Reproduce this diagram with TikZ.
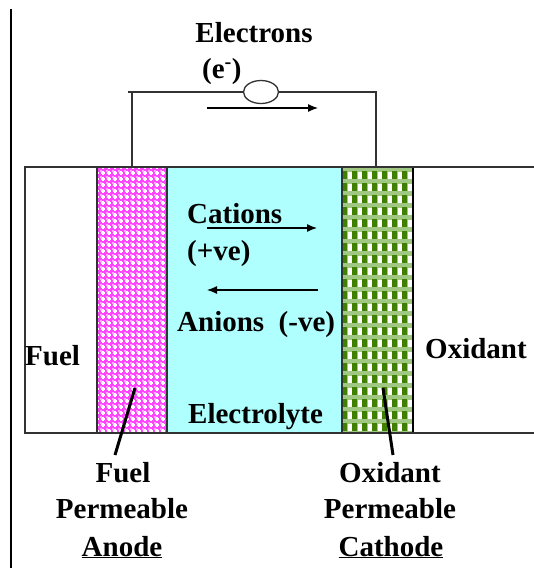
\documentclass[tikz,border=0pt]{standalone}
\usepackage{fontspec}
\setmainfont{Liberation Serif}
\usetikzlibrary{arrows.meta,shapes.geometric}
\definecolor{pinkbase}{RGB}{255,70,255}
\definecolor{pinklight}{RGB}{255,170,255}
\definecolor{cyanfill}{RGB}{176,255,255}
\definecolor{dkgreen}{RGB}{64,128,0}
\definecolor{ltgreen}{RGB}{160,200,130}
\definecolor{wire}{RGB}{50,50,50}
\tikzset{
  lbl/.style={inner sep=0pt,font=\fontsize{29}{36}\selectfont\bfseries},
  wireline/.style={draw=wire,line width=1.3pt},
  pointer/.style={draw=black,line width=3pt},
  flow/.style={draw=black,line width=1.2pt,-{Latex[length=10pt,width=8pt]}},
}
\begin{document}
\begin{tikzpicture}[x=1pt,y=-1pt]
\clip (0,0) rectangle (534,568);
\fill[white] (0,0) rectangle (534,568);
% left margin rule
\draw[black,line width=2pt] (11,9) -- (11,568);
% layers
\fill[pinkbase] (97,167) rectangle (167,433);
\begin{scope}
\clip (97,167) rectangle (167,433);
\foreach \i in {0,...,12}{
  \foreach \j in {0,...,45}{
    \fill[pinklight] ({97+6*\i+3},{167+6*\j+3}) rectangle ++(1.5,1.5);
    \fill[white] ({97+6*\i-0.6},{167+6*\j-1.8}) rectangle ++(1.2,3.6);
    \fill[white] ({97+6*\i-1.8},{167+6*\j-0.6}) rectangle ++(3.6,1.2);
  }
}
\end{scope}
\fill[cyanfill] (167,167) rectangle (342,433);
\begin{scope}
\clip (342,167) rectangle (413,433);
\fill[ltgreen] (342,167) rectangle (413,433);
\foreach \i in {0,...,7}{
  \foreach \j in {0,...,22}{
    \fill[dkgreen] ({342+10*\i},{167+12*\j+4}) rectangle ++(5,8);
    \fill[white] ({342+10*\i+5.5},{167+12*\j+4.5}) rectangle ++(4,7);
  }
}
\end{scope}
\draw[wire,line width=1.5pt] (97,167) -- (97,433);
\draw[wire,line width=1.5pt] (167,167) -- (167,433);
\draw[wire,line width=1.5pt] (342,167) -- (342,433);
\draw[black,line width=2pt] (413,167) -- (413,433);
\draw[wire,line width=1.5pt] (25,167) rectangle (545,433);
% external circuit
\node[draw=wire,line width=1.3pt,ellipse,minimum width=35pt,minimum height=23pt,inner sep=0pt] (load) at (261,92) {};
\coordinate (wl) at (128,92);
\coordinate (anodetop) at (132,167);
\coordinate (cornerR) at (376,92);
\coordinate (cathodetop) at (376,167);
\draw[wireline] (wl) -- (load.west);
\draw[wireline] (132,92) -- (anodetop);
\draw[wireline] (load.east) -- (cornerR) -- (cathodetop);
\coordinate (ea) at (207,108);
\coordinate (eb) at (318,108);
\draw[flow] (ea) -- (eb);
% ion arrows
\coordinate (ca) at (207,228);
\coordinate (cb) at (317,228);
\draw[flow] (ca) -- (cb);
\coordinate (aa) at (318,290);
\coordinate (ab) at (207,290);
\draw[flow] (aa) -- (ab);
% labels
\node[lbl,anchor=base] (electrons) at (254,42) {Electrons};
\node[lbl,anchor=base west] (eminus) at (202,78) {(e\textsuperscript{-})};
\node[lbl,anchor=base west] (cations) at (187,223) {Cations};
\node[lbl,anchor=base west] (pve) at (187,260) {(+ve)};
\node[lbl,anchor=base west] (anions) at (177,331) {Anions\ \ (-ve)};
\node[lbl,anchor=base west] (fuel) at (25,365) {Fuel};
\node[lbl,anchor=base west] (oxidant) at (425,358) {Oxidant};
\node[lbl,anchor=base west] (electrolyte) at (188,423) {Electrolyte};
% bottom labels
\node[lbl,anchor=base] (fa1) at (123,482) {Fuel};
\node[lbl,anchor=base] (fa2) at (122,518) {Permeable};
\node[lbl,anchor=base] (fa3) at (122,556) {\underline{Anode}};
\node[lbl,anchor=base] (oc1) at (390,482) {Oxidant};
\node[lbl,anchor=base] (oc2) at (390,518) {Permeable};
\node[lbl,anchor=base] (oc3) at (391,556) {\underline{Cathode}};
% pointers
\coordinate (pa1) at (135,388);
\coordinate (pa2) at (115,455);
\coordinate (pc1) at (383,388);
\coordinate (pc2) at (393,455);
\draw[pointer] (pa1) -- (pa2);
\draw[pointer] (pc1) -- (pc2);
\end{tikzpicture}
\end{document}
